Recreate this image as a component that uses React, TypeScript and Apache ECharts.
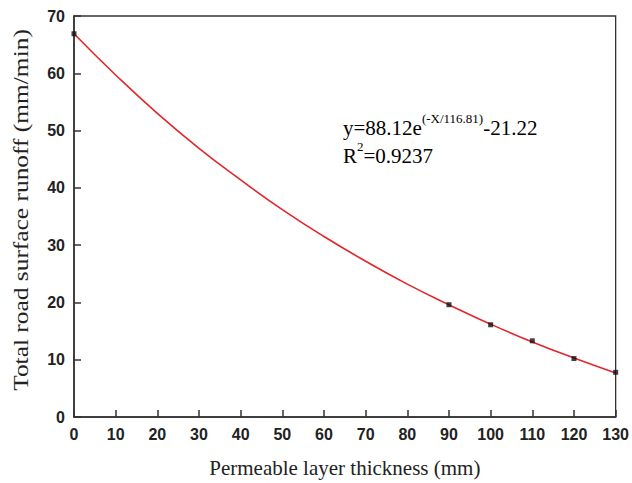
import React, { useEffect, useRef } from "react";
import * as echarts from "echarts";

const measuredX = [0, 90, 100, 110, 120, 130];
const measuredY = [66.9, 19.6, 16.1, 13.3, 10.2, 7.8];
const fitX = [0, 10, 20, 30, 40, 50, 60, 70, 80, 90, 100, 110, 120, 130];
const fitY = [66.9, 59.7, 53.0, 46.9, 41.4, 36.2, 31.5, 27.2, 23.2, 19.6, 16.2, 13.1, 10.3, 7.7];
const xTitle = "Permeable layer thickness (mm)";
const yTitle = "Total road surface runoff (mm/min)";
const eqMain1 = "y=88.12e";
const eqSup1 = "(-X/116.81)";
const eqTail1 = "-21.22";
const eqMain2 = "R";
const eqSup2 = "2";
const eqTail2 = "=0.9237";

export default function App() {
  const ref = useRef<HTMLDivElement>(null);
  useEffect(() => {
    if (!ref.current) return;
    const chart = echarts.init(ref.current, undefined, { renderer: "svg" });
    const axisColor = "#333";
    const rich = {
      m: { fontFamily: "Liberation Serif", fontSize: 21, color: "#111", lineHeight: 26, verticalAlign: "bottom" },
      s: { fontFamily: "Liberation Serif", fontSize: 13, color: "#111", lineHeight: 14, verticalAlign: "top" },
    };
    chart.setOption({
      animation: false,
      backgroundColor: "#fff",
      grid: {
        left: 74,
        right: 12,
        top: 16,
        bottom: 63,
        show: true,
        borderColor: axisColor,
        borderWidth: 1.3,
        containLabel: false,
      },
      xAxis: {
        type: "value",
        min: 0,
        max: 130,
        interval: 10,
        name: xTitle,
        nameLocation: "middle",
        nameGap: 40,
        nameTextStyle: { fontFamily: "Liberation Serif", fontSize: 21, color: "#222" },
        axisLine: { show: true, lineStyle: { color: axisColor, width: 1.6 } },
        axisTick: { show: true, inside: true, length: 7, lineStyle: { color: axisColor, width: 1.5 } },
        axisLabel: { margin: 9, fontFamily: "Liberation Sans", fontSize: 16, fontWeight: "bold", color: "#222" },
        splitLine: { show: false },
      },
      yAxis: {
        type: "value",
        min: 0,
        max: 70,
        interval: 10,
        axisLine: { show: true, lineStyle: { color: axisColor, width: 1.6 } },
        axisTick: { show: true, inside: true, length: 7, lineStyle: { color: axisColor, width: 1.5 } },
        axisLabel: { margin: 9, fontFamily: "Liberation Sans", fontSize: 16, fontWeight: "bold", color: "#222" },
        splitLine: { show: false },
      },
      series: [
        {
          type: "line",
          data: fitX.map((x, i) => [x, fitY[i]]),
          smooth: true,
          showSymbol: false,
          symbol: "none",
          lineStyle: { color: "#e3262b", width: 1.6 },
          z: 2,
        },
        {
          type: "scatter",
          data: measuredX.map((x, i) => [x, measuredY[i]]),
          symbol: "rect",
          symbolSize: 5,
          itemStyle: { color: "#111" },
          z: 3,
        },
      ],
      graphic: [
        {
          type: "text",
          x: 21,
          y: 210,
          rotation: Math.PI / 2,
          scaleX: 1.27,
          style: {
            text: yTitle,
            fontFamily: "Liberation Serif",
            fontSize: 20,
            fill: "#222",
            textAlign: "center",
            textVerticalAlign: "middle",
          },
        },
        {
          type: "text",
          left: 343,
          top: 112,
          style: {
            text: `{m|${eqMain1}}{s|${eqSup1}}{m|${eqTail1}}`,
            rich,
          },
        },
        {
          type: "text",
          left: 343,
          top: 140,
          style: {
            text: `{m|${eqMain2}}{s|${eqSup2}}{m|${eqTail2}}`,
            rich,
          },
        },
      ],
    });
    return () => chart.dispose();
  }, []);
  return <div ref={ref} style={{ position: "absolute", left: 0, top: 0, width: 632, height: 483 }} />;
}
